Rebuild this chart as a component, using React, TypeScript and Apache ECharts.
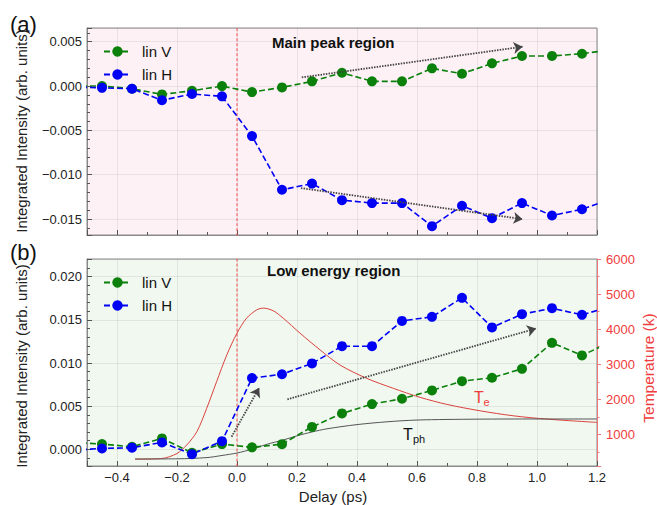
import React, { useEffect, useRef } from 'react';
import * as echarts from 'echarts';

// Delay (ps) of the measured points (first/last lie just outside the visible range)
const delays = [-0.55, -0.45, -0.35, -0.25, -0.15, -0.05, 0.05, 0.15, 0.25, 0.35, 0.45, 0.55, 0.65, 0.75, 0.85, 0.95, 1.05, 1.15, 1.25];
// (a) Main peak region
const mainLinV = [0.0, 0.0, -0.0003, -0.00094, -0.00053, 0.0, -0.00068, -0.00015, 0.00053, 0.0015, 0.00053, 0.00053, 0.002, 0.00139, 0.00256, 0.00339, 0.0034, 0.00365, 0.0041];
const mainLinH = [-0.0001, -0.0002, -0.0003, -0.0016, -0.0009, -0.00116, -0.00564, -0.0117, -0.011, -0.01287, -0.0132, -0.0132, -0.0158, -0.0135, -0.0149, -0.0132, -0.0146, -0.0139, -0.0127];
// (b) Low energy region
const lowLinV = [0.0008, 0.00061, 0.0003, 0.00127, -0.0004, 0.00061, 0.00023, 0.0006, 0.0026, 0.00416, 0.00524, 0.00586, 0.00683, 0.0079, 0.00829, 0.00933, 0.01234, 0.01088, 0.0125];
const lowLinH = [-0.0001, 0.0001, 0.00019, 0.0008, -0.00056, 0.00095, 0.00825, 0.0087, 0.00995, 0.01195, 0.01195, 0.01488, 0.01535, 0.01755, 0.01412, 0.01566, 0.01635, 0.01558, 0.0166];
// Electron temperature Te (K)
const teDelay = [-0.34, -0.25, -0.2, -0.168, -0.134, -0.101, -0.068, -0.034, 0, 0.032, 0.066, 0.088, 0.121, 0.154, 0.21, 0.277, 0.343, 0.432, 0.521, 0.61, 0.699, 0.81, 0.921, 1.032, 1.2];
const teKelvin = [294, 314, 457, 694, 1074, 1743, 2503, 3266, 3886, 4314, 4551, 4600, 4523, 4314, 3886, 3409, 2980, 2600, 2314, 2057, 1857, 1674, 1531, 1437, 1343];
// Phonon temperature Tph (K)
const tphDelay = [-0.34, -0.2, -0.1, -0.05, 0, 0.05, 0.1, 0.15, 0.2, 0.25, 0.3, 0.4, 0.5, 0.6, 0.8, 1.0, 1.2];
const tphKelvin = [300, 305, 340, 400, 470, 580, 720, 830, 960, 1070, 1160, 1280, 1360, 1410, 1435, 1440, 1440];
// Trend arrows [start, end] in data coordinates
const mainArrows = [
  [[0.216, 0.00098], [0.952, 0.00444]],
  [[0.213, -0.01151], [0.952, -0.01501]],
];
const lowArrows = [
  [[-0.018, 0.00146], [0.074, 0.00713]],
  [[0.168, 0.00579], [0.997, 0.014]],
];
const pumpDelay = 0; // time-zero marker (ps)
const seriesNames = ['lin V', 'lin H'];

const FONT = '"Liberation Sans", Arial, Helvetica, sans-serif';
const GREEN = '#0b800b';
const BLUE = '#0000f5';
const RED = '#f03c3c';
const ZERO_RED = '#f24a4a';
const ARROW = '#444444';
const FRAME = '#8a8a8a';

const zip = (xs: number[], ys: number[]) => xs.map((x, i) => [x, ys[i]]);
const fmtY = (v: number) => (v < -1e-12 ? '\u2212' : '') + Math.abs(v).toFixed(3);
const fmtX = (v: number) => (v < -1e-12 ? '\u2212' : '') + Math.abs(v).toFixed(1);

function xAxisFor(gridIndex: number, labels: boolean) {
  return {
    type: 'value', gridIndex, min: -0.5, max: 1.2, splitNumber: 8,
    axisLine: { show: true, onZero: false, lineStyle: { color: FRAME, width: 1 } },
    axisTick: { show: true, inside: true, length: 5, lineStyle: { color: '#555' } },
    minorTick: { show: true, splitNumber: 2, length: 3, lineStyle: { color: '#555' } },
    splitLine: { show: true, lineStyle: { color: 'rgba(0,0,0,0.07)' } },
    axisLabel: { show: labels, showMinLabel: false, margin: 5, formatter: fmtX, fontFamily: FONT, fontSize: 13, color: '#222' },
  };
}

function yAxisFor(gridIndex: number, min: number, max: number) {
  return {
    type: 'value', gridIndex, min, max, splitNumber: 5, position: 'left',
    axisLine: { show: true, onZero: false, lineStyle: { color: FRAME, width: 1 } },
    axisTick: { show: true, inside: true, length: 5, lineStyle: { color: '#555' } },
    minorTick: { show: true, splitNumber: 5, length: 3, lineStyle: { color: '#555' } },
    splitLine: { show: true, lineStyle: { color: 'rgba(0,0,0,0.07)' } },
    axisLabel: { showMinLabel: false, showMaxLabel: false, margin: 5, formatter: fmtY, fontFamily: FONT, fontSize: 13, color: '#222' },
  };
}

function dataSeries(name: string, color: string, xs: number[], ys: number[], axisIdx: number) {
  return {
    type: 'line', name, xAxisIndex: axisIdx, yAxisIndex: axisIdx,
    data: zip(xs, ys), symbol: 'circle', symbolSize: 10, clip: true,
    itemStyle: { color },
    lineStyle: { color, width: 1.6, type: [6, 3] },
  };
}

// vertical time-zero line spanning the whole panel (clipped to the grid)
function zeroSeries(axisIdx: number) {
  return {
    type: 'line', name: 'zero' + axisIdx, xAxisIndex: axisIdx, yAxisIndex: axisIdx,
    data: [[pumpDelay, -1], [pumpDelay, 1]], showSymbol: false, symbol: 'none', clip: true,
    itemStyle: { color: ZERO_RED }, lineStyle: { color: ZERO_RED, type: [3, 2], width: 1 },
    silent: true, z: 1,
  };
}

function arrowSeries(axisIdx: number, arrows: number[][][]) {
  return {
    type: 'line', name: 'arrows' + axisIdx, xAxisIndex: axisIdx, yAxisIndex: axisIdx, data: [],
    itemStyle: { color: ARROW }, lineStyle: { color: ARROW }, silent: true,
    markLine: {
      silent: true, symbol: ['none', 'arrow'], symbolSize: 9, label: { show: false },
      lineStyle: { color: ARROW, type: [1.5, 1.2], width: 1.8 },
      data: arrows.map(([s, e]) => [{ coord: s }, { coord: e }]),
    },
  };
}

function legendAt(top: number) {
  return {
    top, left: 98, orient: 'vertical', itemWidth: 27, itemHeight: 13, itemGap: 8,
    data: seriesNames,
    textStyle: { fontFamily: FONT, fontSize: 15, color: '#111', padding: [0, 0, 0, 6] },
  };
}

function text(t: string, x: number, y: number, size: number, opts: any = {}) {
  return {
    type: 'text', x, y, silent: true, rotation: opts.rotation || 0,
    style: {
      text: t, fontFamily: FONT, fontSize: size, fontWeight: opts.bold ? 'bold' : 'normal',
      fill: opts.color || '#111', align: opts.align || 'left', verticalAlign: 'middle',
    },
  };
}

export default function App() {
  const ref = useRef<HTMLDivElement>(null);
  useEffect(() => {
    document.body.style.margin = '0';
    if (!ref.current) return;
    const chart = echarts.init(ref.current, undefined, { renderer: 'svg' });
    const option: any = {
      animation: false,
      backgroundColor: '#ffffff',
      grid: [
        { left: 87, top: 28, width: 510, height: 207, show: true, backgroundColor: '#fdf1f6', borderColor: FRAME, borderWidth: 1 },
        { left: 87, top: 259, width: 510, height: 207, show: true, backgroundColor: '#f1f8f0', borderColor: FRAME, borderWidth: 1 },
      ],
      xAxis: [xAxisFor(0, false), xAxisFor(1, true)],
      yAxis: [
        yAxisFor(0, -0.0168, 0.00655),
        yAxisFor(1, -0.00193, 0.02205),
        {
          type: 'value', gridIndex: 1, position: 'right', min: 100, max: 6000, splitNumber: 5,
          axisLine: { show: true, onZero: false, lineStyle: { color: '#f07a7a', width: 1 } },
          axisTick: { show: true, inside: false, length: 4, lineStyle: { color: '#f07a7a' } },
          minorTick: { show: true, splitNumber: 2, length: 2.5, lineStyle: { color: '#f07a7a' } },
          splitLine: { show: false },
          axisLabel: { showMinLabel: false, margin: 9, formatter: (v: number) => String(Math.round(v)), fontFamily: FONT, fontSize: 13, color: RED },
        },
      ],
      legend: [legendAt(39), legendAt(270)],
      series: [
        zeroSeries(0),
        arrowSeries(0, mainArrows),
        dataSeries('lin V', GREEN, delays, mainLinV, 0),
        dataSeries('lin H', BLUE, delays, mainLinH, 0),
        zeroSeries(1),
        {
          type: 'line', name: 'Te', xAxisIndex: 1, yAxisIndex: 2, data: zip(teDelay, teKelvin),
          showSymbol: false, smooth: 0.3, clip: true, lineStyle: { color: '#d9423c', width: 1 }, silent: true,
        },
        {
          type: 'line', name: 'Tph', xAxisIndex: 1, yAxisIndex: 2, data: zip(tphDelay, tphKelvin),
          showSymbol: false, smooth: 0.3, clip: true, lineStyle: { color: '#555555', width: 1 }, silent: true,
        },
        arrowSeries(1, lowArrows),
        dataSeries('lin V', GREEN, delays, lowLinV, 1),
        dataSeries('lin H', BLUE, delays, lowLinH, 1),
      ],
      graphic: [
        text('(a)', 10, 24, 22),
        text('(b)', 10, 252, 22),
        text('Main peak region', 272, 42, 15, { bold: true }),
        text('Low energy region', 267, 270, 15, { bold: true }),
        text('T', 474, 397, 16, { color: RED }),
        text('e', 483.5, 402, 11, { color: RED }),
        text('T', 403, 434, 16, { color: '#111' }),
        text('ph', 413, 439, 11, { color: '#111' }),
        text('Integrated Intensity (arb. units)', 21, 131, 15, { align: 'center', rotation: Math.PI / 2, color: '#222' }),
        text('Integrated Intensity (arb. units)', 21, 366, 15, { align: 'center', rotation: Math.PI / 2, color: '#222' }),
        text('Temperature (k)', 648, 368, 15.5, { align: 'center', rotation: Math.PI / 2, color: RED }),
        text('Delay (ps)', 333, 496, 15, { align: 'center', color: '#222' }),
      ],
    };
    chart.setOption(option);
    return () => chart.dispose();
  }, []);
  return <div ref={ref} style={{ width: 657, height: 505 }} />;
}
